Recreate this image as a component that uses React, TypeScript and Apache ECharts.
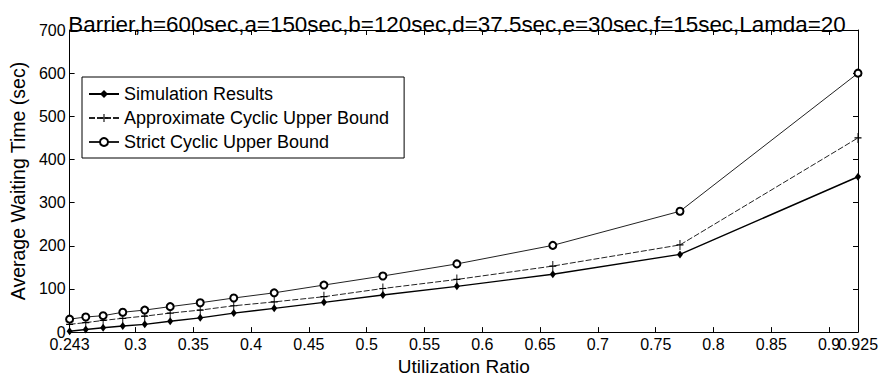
import React, { useEffect, useRef } from "react";
import * as echarts from "echarts";

const utilization = [0.243, 0.257, 0.272, 0.289, 0.308, 0.33, 0.356, 0.385, 0.42, 0.463, 0.514, 0.578, 0.661, 0.771, 0.925];
const simulationResults = [2, 6, 10, 14, 18, 25, 33, 44, 55, 69, 86, 106, 134, 180, 360];
const approximateBound = [18, 22, 27, 32, 37, 44, 51, 61, 70, 82, 101, 122, 153, 202, 450];
const strictBound = [30, 35, 38, 46, 51, 59, 68, 79, 91, 109, 130, 158, 201, 280, 600];
const xTickLabels = [0.243, 0.3, 0.35, 0.4, 0.45, 0.5, 0.55, 0.6, 0.65, 0.7, 0.75, 0.8, 0.85, 0.9, 0.925];
const xTickMarks = [0.3, 0.35, 0.4, 0.45, 0.5, 0.55, 0.6, 0.65, 0.7, 0.75, 0.8, 0.85, 0.9];
const seriesNames = ["Simulation Results", "Approximate Cyclic Upper Bound", "Strict Cyclic Upper Bound"];
const titleText = "Barrier,h=600sec,a=150sec,b=120sec,d=37.5sec,e=30sec,f=15sec,Lamda=20";
const xName = "Utilization Ratio";
const yName = "Average Waiting Time (sec)";

const FONT = "'Liberation Sans', Arial, Helvetica, sans-serif";
const PLUS = "path://M4.4,0H5.6V10H4.4ZM0.5,4.4H9.5V5.6H0.5Z";

export default function App() {
  const ref = useRef<HTMLDivElement>(null);
  useEffect(() => {
    if (!ref.current) return;
    const chart = echarts.init(ref.current, undefined, { renderer: "svg" });
    const pairs = (ys: number[]) => utilization.map((x, i) => [x, ys[i]]);
    const axisLine = { show: true, onZero: false, lineStyle: { color: "#000", width: 1 } };
    const tick = { show: true, inside: true, length: 5, lineStyle: { color: "#000", width: 1 } };
    const xLabelStyle = {
      fontSize: 16,
      color: "#000",
      fontFamily: FONT,
      margin: 4,
      showMinLabel: true,
      showMaxLabel: true,
      formatter: (v: number) => String(v),
    };
    chart.setOption({
      animation: false,
      backgroundColor: "#fff",
      textStyle: { fontFamily: FONT },
      grid: { left: 67, right: 28, top: 30, bottom: 42 },
      graphic: [
        {
          type: "text",
          x: 457,
          y: 24,
          style: {
            text: titleText,
            font: `22.4px ${FONT}`,
            fill: "#000",
            align: "center",
            textAlign: "center",
            verticalAlign: "middle",
            textVerticalAlign: "middle",
          },
          z: 100,
        },
      ],
      legend: {
        orient: "vertical",
        left: 82,
        top: 77,
        itemWidth: 30,
        itemHeight: 10,
        itemGap: 6,
        padding: [8, 15, 7, 6],
        borderColor: "#000",
        borderWidth: 1,
        backgroundColor: "#fff",
        selectedMode: false,
        textStyle: { fontSize: 18, fontFamily: FONT, color: "#000", lineHeight: 18 },
        data: seriesNames,
      },
      xAxis: [
        {
          type: "value",
          min: 0.243,
          max: 0.925,
          position: "bottom",
          name: xName,
          nameLocation: "middle",
          nameGap: 24,
          nameTextStyle: { fontSize: 19, color: "#000", fontFamily: FONT },
          axisLine,
          axisTick: { ...tick, customValues: xTickMarks },
          axisLabel: { ...xLabelStyle, customValues: xTickLabels.slice(0, -1) },
          splitLine: { show: false },
        },
        {
          type: "value",
          min: 0.243,
          max: 0.925,
          position: "top",
          axisLine,
          axisTick: { ...tick, customValues: xTickMarks },
          axisLabel: { show: false },
          splitLine: { show: false },
        },
        {
          type: "value",
          min: 0.243,
          max: 0.925,
          position: "bottom",
          axisLine: { show: false, onZero: false },
          axisTick: { show: false },
          axisLabel: { ...xLabelStyle, customValues: xTickLabels.slice(-1) },
          splitLine: { show: false },
        },
      ],
      yAxis: [
        {
          type: "value",
          min: 0,
          max: 700,
          interval: 100,
          position: "left",
          name: yName,
          nameLocation: "middle",
          nameGap: 34,
          nameTextStyle: { fontSize: 19.5, color: "#000", fontFamily: FONT },
          axisLine,
          axisTick: tick,
          axisLabel: { fontSize: 16, color: "#000", fontFamily: FONT, margin: 4 },
          splitLine: { show: false },
        },
        {
          type: "value",
          min: 0,
          max: 700,
          interval: 100,
          position: "right",
          axisLine,
          axisTick: tick,
          axisLabel: { show: false },
          splitLine: { show: false },
        },
      ],
      series: [
        {
          name: seriesNames[0],
          type: "line",
          data: pairs(simulationResults),
          symbol: "diamond",
          symbolSize: [6, 8],
          lineStyle: { color: "#000", width: 1.4 },
          itemStyle: { color: "#000" },
          z: 3,
        },
        {
          name: seriesNames[1],
          type: "line",
          data: pairs(approximateBound),
          symbol: PLUS,
          symbolSize: [7, 10],
          lineStyle: { color: "#222", width: 1, type: [6, 2] },
          itemStyle: { color: "#000" },
          z: 3,
        },
        {
          name: seriesNames[2],
          type: "line",
          data: pairs(strictBound),
          symbol: "emptyCircle",
          symbolSize: 7,
          lineStyle: { color: "#222", width: 1 },
          itemStyle: { color: "#000", borderWidth: 1 },
          z: 3,
        },
      ],
    });
    return () => chart.dispose();
  }, []);
  return (
    <div
      ref={ref}
      style={{ position: "fixed", left: 0, top: 0, width: 886, height: 381, background: "#fff" }}
    />
  );
}
